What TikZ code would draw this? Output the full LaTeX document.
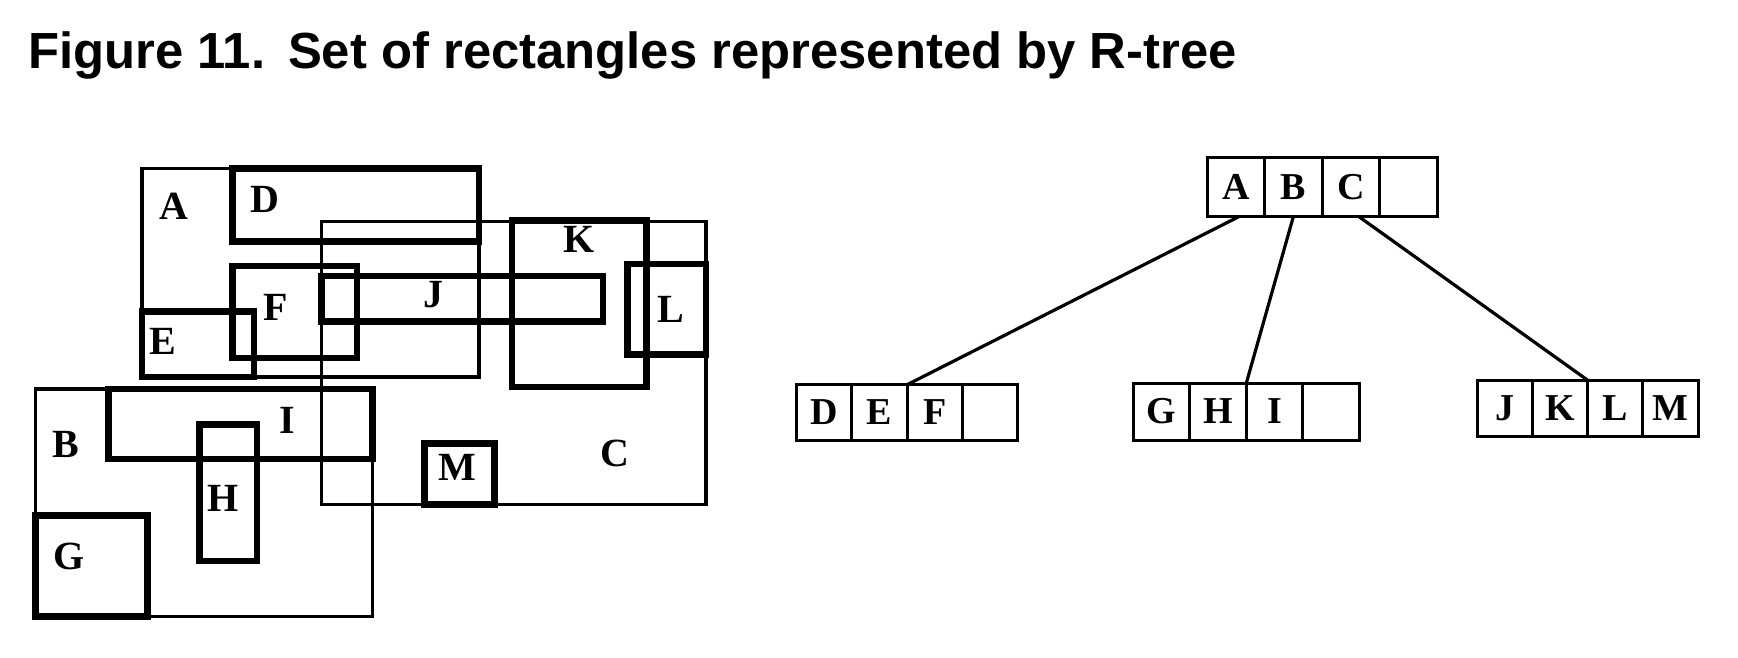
\documentclass[tikz,border=0pt]{standalone}
\usepackage{fontspec}
\setmainfont{Liberation Serif}
\setsansfont{Liberation Sans}
\begin{document}
\begin{tikzpicture}[x=0.55421pt,y=-0.55421pt,
  thinr/.style={line width=1.7pt},
  thickr/.style={line width=3.3pt},
  lbl/.style={font=\fontsize{20}{20}\selectfont\bfseries, inner sep=0pt},
  cell/.style 2 args={draw, line width=1.5pt, minimum width=#1, minimum height=#2,
    inner sep=0pt, outer sep=0pt, anchor=west, font=\fontsize{19}{19}\selectfont\bfseries},
  link/.style={line width=1.6pt}]
\useasboundingbox (0,0) rectangle (1568,593.6);
% title
\node[anchor=base west, inner sep=0pt, font=\sffamily\bfseries\fontsize{25.4}{26}\selectfont]
  (title) at (25,61.5) {Figure 11.\hspace{0.45em}Set of rectangles represented by R-tree};
% ---- rectangles (left) ----
\draw[thinr] (128,152) rectangle (432,340);   % A
\draw[thinr] (290,200) rectangle (637,455);   % C
\draw[thinr] (32,351) rectangle (336,556);    % B
\draw[thickr] (210,152) rectangle (432,218);  % D
\draw[thickr] (462,199) rectangle (583,349);  % K
\draw[thickr] (566,238) rectangle (637,320);  % L
\draw[thickr] (290,249) rectangle (544,290);  % J
\draw[thickr] (210,240) rectangle (322,323);  % F
\draw[thickr] (128,281) rectangle (229,340);  % E
\draw[thickr] (98,351) rectangle (336,414);   % I
\draw[thickr] (180,383) rectangle (232,506);  % H
\draw[thickr] (32,465) rectangle (133,556);   % G
\draw[thickr] (383,400) rectangle (446,455);  % M
% labels
\node[lbl] (lA) at (157,186) {A};
\node[lbl] (lD) at (239,180) {D};
\node[lbl] (lK) at (522,216) {K};
\node[lbl] (lJ) at (391,266) {J};
\node[lbl] (lL) at (605,279) {L};
\node[lbl] (lF) at (249,277) {F};
\node[lbl] (lE) at (147,308) {E};
\node[lbl] (lB) at (59,401) {B};
\node[lbl] (lI) at (259,379) {I};
\node[lbl] (lH) at (201,450) {H};
\node[lbl] (lG) at (62,502) {G};
\node[lbl] (lM) at (413,422) {M};
\node[lbl] (lC) at (555,409) {C};
% ---- tree (right) ----
\node[cell={28.76pt}{29.76pt}] (rA) at (1089,168.6) {A};
\node[cell={28.76pt}{29.76pt}] (rB) at (rA.east) {B};
\node[cell={28.76pt}{29.76pt}] (rC) at (rB.east) {C};
\node[cell={28.76pt}{29.76pt}] (rX) at (rC.east) {};
\node[cell={27.66pt}{27.71pt}] (cD) at (718.7,372) {D};
\node[cell={27.66pt}{27.71pt}] (cE) at (cD.east) {E};
\node[cell={27.66pt}{27.71pt}] (cF) at (cE.east) {F};
\node[cell={27.66pt}{27.71pt}] (cX1) at (cF.east) {};
\node[cell={28.24pt}{28.49pt}] (cG) at (1022.5,371.3) {G};
\node[cell={28.24pt}{28.49pt}] (cH) at (cG.east) {H};
\node[cell={28.24pt}{28.49pt}] (cI) at (cH.east) {I};
\node[cell={28.24pt}{28.49pt}] (cX2) at (cI.east) {};
\node[cell={27.63pt}{28.26pt}] (cJ) at (1332.6,368.5) {J};
\node[cell={27.63pt}{28.26pt}] (cK) at (cJ.east) {K};
\node[cell={27.63pt}{28.26pt}] (cL) at (cK.east) {L};
\node[cell={27.63pt}{28.26pt}] (cM) at (cL.east) {M};
\draw[link] ([xshift=1.5pt]rA.south) -- (cE.north east);
\draw[link] (rB.south) -- (cH.north east);
\draw[link] ([xshift=4pt]rC.south) -- (cK.north east);
\end{tikzpicture}
\end{document}
